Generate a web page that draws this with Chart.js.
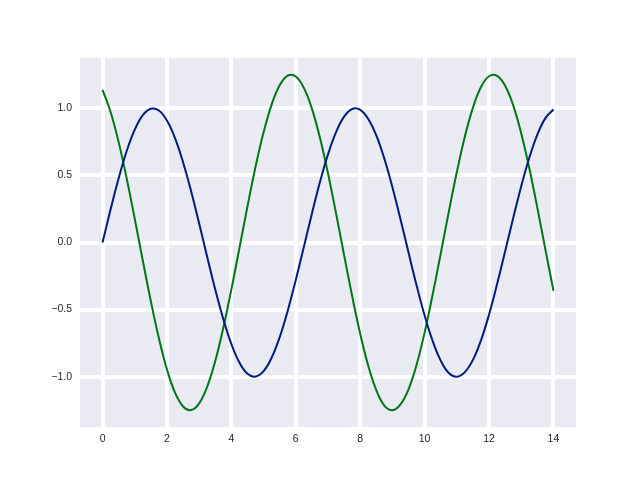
<!DOCTYPE html>
<html>
<head>
<meta charset="utf-8">
<script src="https://cdn.jsdelivr.net/npm/chart.js@4"></script>
<style>
    html, body { margin: 0; padding: 0; background: #ffffff; }
    #wrap { width: 640px; height: 480px; }
</style>
</head>
<body>
<div id="wrap"><canvas id="waveChart" width="640" height="480"></canvas></div>
<script>
// sample positions along x
const xValues = [
    0, 0.25, 0.5, 0.75, 1, 1.25, 1.5, 1.75, 2, 2.25, 2.5, 2.75, 3, 3.25, 3.5, 3.75,
    4, 4.25, 4.5, 4.75, 5, 5.25, 5.5, 5.75, 6, 6.25, 6.5, 6.75, 7, 7.25, 7.5, 7.75,
    8, 8.25, 8.5, 8.75, 9, 9.25, 9.5, 9.75, 10, 10.25, 10.5, 10.75, 11, 11.25, 11.5, 11.75,
    12, 12.25, 12.5, 12.75, 13, 13.25, 13.5, 13.75, 14
];

// blue curve
const blueValues = [
    0, 0.247, 0.479, 0.682, 0.841, 0.949, 0.997, 0.984, 0.909, 0.778, 0.598, 0.382, 0.141, -0.108, -0.351, -0.572,
    -0.757, -0.895, -0.978, -0.999, -0.959, -0.859, -0.706, -0.508, -0.279, -0.033, 0.215, 0.451, 0.657, 0.823, 0.938, 0.995,
    0.989, 0.921, 0.798, 0.624, 0.412, 0.174, -0.075, -0.319, -0.544, -0.734, -0.880, -0.972, -1.000, -0.966, -0.875, -0.729,
    -0.537, -0.310, -0.066, 0.182, 0.420, 0.632, 0.804, 0.927, 0.991
];

// green curve
const greenValues = [
    1.137, 0.973, 0.748, 0.477, 0.176, -0.135, -0.438, -0.714, -0.946, -1.119, -1.222, -1.249, -1.199, -1.074, -0.883, -0.635,
    -0.349, -0.042, 0.269, 0.564, 0.821, 1.028, 1.172, 1.244, 1.237, 1.152, 0.998, 0.780, 0.515, 0.217, -0.094, -0.399,
    -0.680, -0.918, -1.100, -1.215, -1.250, -1.207, -1.094, -0.911, -0.671, -0.388, -0.083, 0.228, 0.525, 0.790, 1.005, 1.159,
    1.239, 1.242, 1.168, 1.022, 0.813, 0.553, 0.258, -0.053, -0.360
];

const xTicks = [0, 2, 4, 6, 8, 10, 12, 14];
const yTicks = [-1.0, -0.5, 0.0, 0.5, 1.0];

const toPoints = (ys) => xValues.map((x, i) => ({ x: x, y: ys[i] }));

// grey panel behind the plot, like seaborn darkgrid
const panelBackground = {
    id: 'panelBackground',
    beforeDraw(chart) {
        const { ctx, chartArea } = chart;
        ctx.save();
        ctx.fillStyle = '#EAEAF2';
        ctx.fillRect(chartArea.left, chartArea.top, chartArea.right - chartArea.left, chartArea.bottom - chartArea.top);
        ctx.restore();
    }
};

const fmt = (v) => (v < 0 ? '\u2212' + Math.abs(v).toFixed(1) : v.toFixed(1));
const tickFont = { family: '"Liberation Sans", Arial, sans-serif', size: 10.5 };

const ctx = document.getElementById('waveChart').getContext('2d');
new Chart(ctx, {
    type: 'line',
    data: {
        datasets: [
            {
                label: 'blue',
                data: toPoints(blueValues),
                borderColor: '#001C7F',
                borderWidth: 2,
                pointRadius: 0,
                tension: 0.4,
                fill: false,
            },
            {
                label: 'green',
                data: toPoints(greenValues),
                borderColor: '#017517',
                borderWidth: 2,
                pointRadius: 0,
                tension: 0.4,
                fill: false,
            },
        ],
    },
    options: {
        responsive: false,
        animation: false,
        layout: { padding: { left: 0, top: 58, right: 64, bottom: 0 } },
        plugins: {
            legend: { display: false },
            tooltip: { enabled: false },
        },
        scales: {
            x: {
                type: 'linear',
                min: -0.7,
                max: 14.7,
                afterBuildTicks: (scale) => { scale.ticks = xTicks.map(v => ({ value: v })); },
                afterFit: (scale) => { scale.height = 53; },
                border: { display: false },
                grid: { color: '#ffffff', lineWidth: 4, drawTicks: false, tickLength: 0 },
                ticks: {
                    color: '#262626',
                    padding: 6,
                    maxRotation: 0,
                    font: tickFont,
                    callback: (v) => String(v),
                },
            },
            y: {
                type: 'linear',
                min: -1.375,
                max: 1.375,
                afterBuildTicks: (scale) => { scale.ticks = yTicks.map(v => ({ value: v })); },
                afterFit: (scale) => { scale.width = 80; },
                border: { display: false },
                grid: { color: '#ffffff', lineWidth: 4, drawTicks: false, tickLength: 0 },
                ticks: {
                    color: '#262626',
                    padding: 8,
                    font: tickFont,
                    callback: (v) => fmt(v),
                },
            },
        },
    },
    plugins: [panelBackground],
});
</script>
</body>
</html>
